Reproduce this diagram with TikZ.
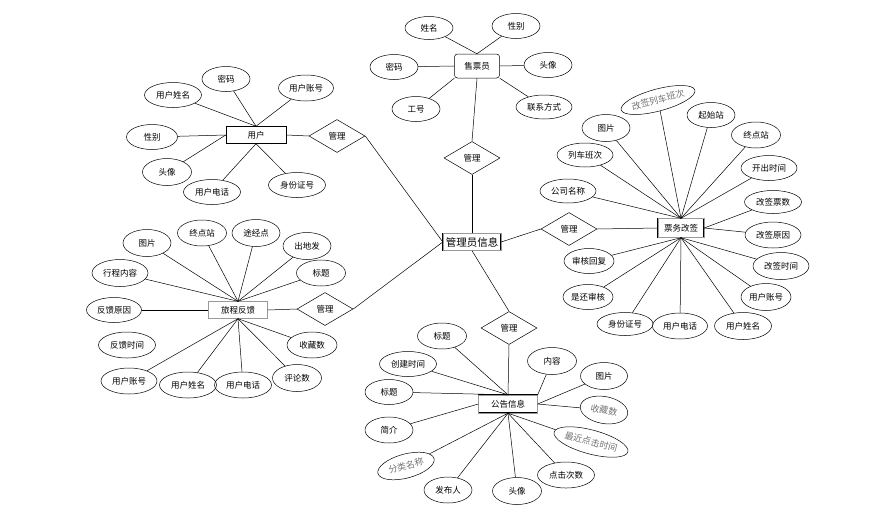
\documentclass[tikz,border=0pt]{standalone}
\usepackage{fontspec}
\setmainfont{Noto Sans CJK SC}
\usetikzlibrary{shapes.geometric}
\begin{document}
\begin{tikzpicture}[x=1pt,y=-1pt,
  every path/.style={line width=0.5pt},
  attr/.style={draw, ellipse, minimum width=#1, minimum height=25pt, inner sep=0pt, font=\fontsize{8.5}{10}\selectfont},
  attr/.default=48pt,
  gattr/.style={attr=#1, text=black!55, font=\fontsize{9}{10}\selectfont},
  gattr/.default=48pt,
  rel/.style={draw, diamond, minimum width=56pt, minimum height=33pt, inner sep=0pt, font=\fontsize{8.5}{10}\selectfont},
  ent/.style={draw, rectangle, minimum height=17pt, inner sep=2pt, font=\fontsize{8.5}{10}\selectfont},
  entd/.style={ent, draw=black, double=black!40, double distance=0.9pt, line width=0.4pt}
]
\useasboundingbox (0,0) rectangle (882,512);
\fill[white] (0,0) rectangle (882,512);

% entities
\node[entd, minimum width=58pt, font=\fontsize{10.5}{12}\selectfont] (main) at (472,242) {管理员信息};
\node[ent, rounded corners=3pt, minimum width=45pt, minimum height=24pt] (s) at (477,66) {售票员};
\node[ent, minimum width=60pt] (u) at (256,135) {用户};
\node[entd, minimum width=46pt, minimum height=19pt] (t) at (681,228) {票务改签};
\node[entd, minimum width=59pt] (f) at (238,310) {旅程反馈};
\node[entd, minimum width=59pt, minimum height=18pt] (g) at (508,404) {公告信息};

% relations
\node[rel] (m1) at (472,158) {管理};
\node[rel] (m2) at (337,136) {管理};
\node[rel] (m3) at (569,229) {管理};
\node[rel] (m4) at (325,309) {管理};
\node[rel] (m5) at (509,328) {管理};

\draw (s.south) -- (m1.north);
\draw (m1.south) -- (main.north);
\draw (u.east) -- (m2.west);
\draw (m2.east) -- (main.west);
\draw (main.east) -- (m3.west);
\draw (m3.east) -- (t.west);
\draw (f.east) -- (m4.west);
\draw (m4.east) -- (main.west);
\draw (main.south) -- (m5.north);
\draw (m5.south) -- (g.north);

% 售票员 attributes
\node[attr, minimum height=23pt] (s1) at (429,28) {姓名};
\node[attr] (s2) at (516,26) {性别};
\node[attr] (s3) at (394,67) {密码};
\node[attr] (s4) at (548,65) {头像};
\node[attr] (s5) at (416,109) {工号};
\node[attr=56pt, minimum height=24pt] (s6) at (544,107) {联系方式};
\draw (s1) -- (s.north);
\draw (s2) -- (s.north);
\draw (s3) -- (s.west);
\draw (s4) -- (s.east);
\draw (s5) -- (s.south west);
\draw (s6) -- (s.south east);

% 用户 attributes
\node[attr=57pt] (u1) at (173,95) {用户姓名};
\node[attr] (u2) at (226,79) {密码};
\node[attr=55pt, minimum height=26pt] (u3) at (306,88) {用户账号};
\node[attr=51pt] (u4) at (152,137) {性别};
\node[attr=49pt, minimum height=27pt] (u5) at (167,172) {头像};
\node[attr=57pt] (u6) at (212,192) {用户电话};
\node[attr=57pt] (u7) at (297,185) {身份证号};
\draw (u1) -- (u.north);
\draw (u2) -- (u.north);
\draw (u3) -- (u.north);
\draw (u4) -- (u.west);
\draw (u5) -- (u.west);
\draw (u6) -- (u.south);
\draw (u7) -- (u.south);

% 票务改签 attributes
\node[gattr=72pt, minimum height=22pt, rotate=15] (t1) at (658,100) {改签列车班次};
\node[attr] (t2) at (711,115) {起始站};
\node[attr, minimum height=27pt] (t3) at (606,128) {图片};
\node[attr=49pt, minimum height=26pt] (t4) at (756,135) {终点站};
\node[attr=56pt, minimum height=24pt] (t5) at (585,155) {列车班次};
\node[attr=56pt] (t6) at (769,168) {开出时间};
\node[attr=56pt, minimum height=24pt] (t7) at (568,191) {公司名称};
\node[attr=57pt, minimum height=23pt] (t8) at (773,202) {改签票数};
\node[attr=56pt, minimum height=26pt] (t9) at (773,235) {改签原因};
\node[attr=56pt, minimum height=27pt] (t10) at (781,266) {改签时间};
\node[attr=50pt, minimum height=27pt] (t11) at (766,297) {用户账号};
\node[attr=57pt, minimum height=27pt] (t12) at (743,326) {用户姓名};
\node[attr=55pt, minimum height=26pt] (t13) at (680,326) {用户电话};
\node[attr=56pt, minimum height=23pt] (t14) at (625,324) {身份证号};
\node[attr=50pt] (t15) at (588,297) {是还审核};
\node[attr=50pt] (t16) at (589,261) {审核回复};
\foreach \n in {t1,t2,t3,t4,t5,t6,t7} \draw (\n) -- (t.north);
\draw (t8) -- (t.east);
\draw (t9) -- (t.east);
\foreach \n in {t10,t11,t12,t13,t14,t15,t16} \draw (\n) -- (t.south);

% 旅程反馈 attributes
\node[attr, minimum height=27pt] (f1) at (147,243) {图片};
\node[attr=49pt, minimum height=26pt] (f2) at (202,233) {终点站};
\node[attr, minimum height=27pt] (f3) at (256,233) {途经点};
\node[attr, minimum height=27pt] (f4) at (307,246) {出地发};
\node[attr=49pt, minimum height=26pt] (f5) at (321,273) {标题};
\node[attr=56pt, minimum height=27pt] (f6) at (120,273) {行程内容};
\node[attr=55pt] (f7) at (114,310) {反馈原因};
\node[attr=57pt, minimum height=26pt] (f8) at (127,345) {反馈时间};
\node[attr=56pt, minimum height=26pt] (f9) at (129,381) {用户账号};
\node[attr=57pt, minimum height=26pt] (f10) at (188,385) {用户姓名};
\node[attr=57pt, minimum height=26pt] (f11) at (243,385) {用户电话};
\node[attr=49pt, minimum height=27pt] (f12) at (297,378) {评论数};
\node[attr=50pt, minimum height=26pt] (f13) at (312,345) {收藏数};
\foreach \n in {f1,f2,f3,f4,f5,f6} \draw (\n) -- (f.north);
\draw (f7) -- (f.west);
\foreach \n in {f9,f10,f11,f12,f13} \draw (\n) -- (f.south);

% 公告信息 attributes
\node[attr=49pt, minimum height=26pt] (g1) at (442,336) {标题};
\node[attr=57pt] (g2) at (408,364) {创建时间};
\node[attr] (g3) at (389,392) {标题};
\node[attr, minimum height=26pt] (g4) at (389,430) {简介};
\node[gattr=58pt, minimum height=24pt, rotate=15] (g5) at (406,466) {分类名称};
\node[attr, minimum height=26pt] (g6) at (448,490) {发布人};
\node[attr=49pt, minimum height=27pt] (g7) at (517,491) {头像};
\node[attr=57pt, minimum height=26pt] (g8) at (566,475) {点击次数};
\node[gattr=74pt, minimum height=24pt, rotate=-15] (g9) at (591,442) {最近点击时间};
\node[gattr=48pt, minimum height=27pt, rotate=-10] (g10) at (604,410) {收藏数};
\node[attr=47pt, minimum height=27pt] (g11) at (604,376) {图片};
\node[attr=49pt, minimum height=27pt] (g12) at (552,361) {内容};
\foreach \n in {g1,g2,g3} \draw (\n) -- (g.north);
\draw (g4) -- (g.west);
\foreach \n in {g5,g6,g7,g8,g9} \draw (\n) -- (g.south);
\draw (g10) -- (g.east);
\draw (g11) -- (g.east);
\draw (g12) -- (g.north east);
\end{tikzpicture}
\end{document}
